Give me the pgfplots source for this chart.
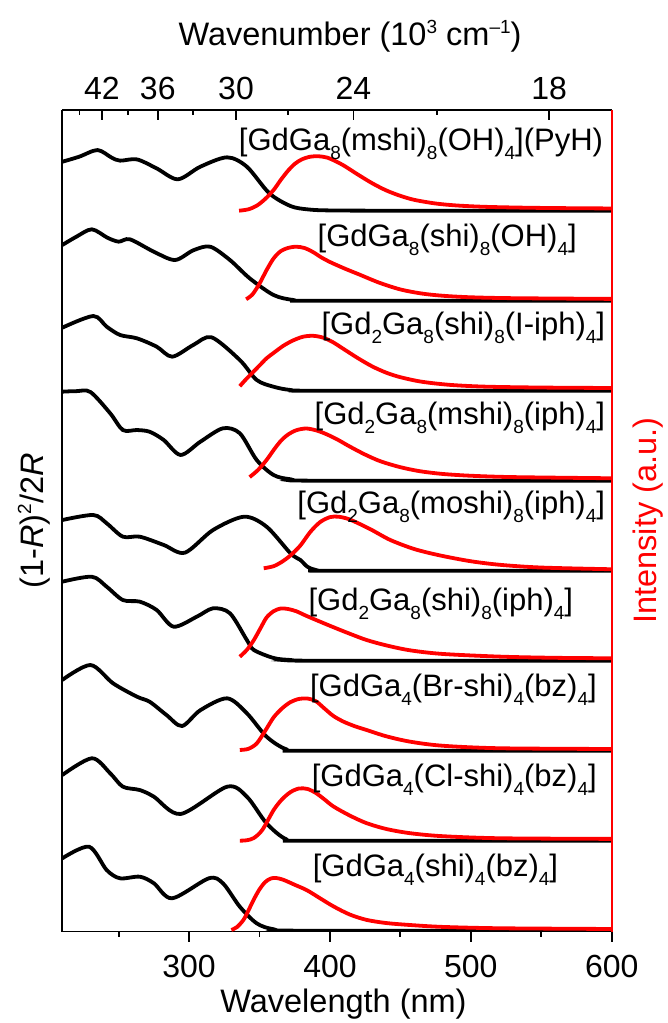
\documentclass[border=0pt]{standalone}
\usepackage{pgfplots}
\pgfplotsset{compat=1.18}
\usepackage{fontspec}
\setmainfont{Liberation Sans}
\newcommand{\sub}[1]{\raisebox{-9pt}{\fontsize{19}{19}\selectfont #1}}
\newcommand{\sups}[1]{\raisebox{12pt}{\fontsize{19}{19}\selectfont #1}}
\definecolor{myred}{RGB}{255,0,0}
\begin{document}
\begin{tikzpicture}
\pgfplotsset{
  blk/.style={black, line width=3.8pt, smooth, tension=0.5},
  rd/.style={myred, line width=3.8pt, smooth, tension=0.5},
}
\begin{axis}[
  at={(0pt,0pt)}, anchor=south west,
  scale only axis, width=549.4pt, height=821.5pt,
  xmin=210, xmax=600, ymin=-0.009, ymax=9.119,
  axis x line*=bottom, axis y line*=left,
  axis line style={line width=1.8pt},
  xtick={300,400,500,600}, xticklabels={300,400,500,600},
  minor xtick={250,350,450,550},
  ytick=\empty,
  tick align=outside, major tick length=10pt, minor tick length=5pt,
  every tick/.style={line width=1.8pt, black},
  xticklabel style={font=\fontsize{32}{32}\selectfont, anchor=base, yshift=-36pt},
  xlabel={Wavelength (nm)},
  ylabel={(1-\textit{R})\sups{2}/2\textit{R}},
  label style={font=\fontsize{32.5}{33}\selectfont},
  xlabel style={at={(axis description cs:0.5118,-0.0992)}, anchor=base},
  ylabel style={at={(axis description cs:-0.035,0.5)}, anchor=base},
]
% offset 8
\addplot[blk] table[x=x, y expr=\thisrow{y}+8] {
x y
210 0.544
222 0.60
235 0.674
245 0.59
251 0.556
263 0.57
277 0.47
292 0.349
308 0.489
327 0.593
341 0.489
357 0.193
372 0.052
384 0.015
400 0.003
450 0
600 0
};
\addplot[rd] table[x=x, y expr=\thisrow{y}+8] {
x y
335.5 0.0
342 0.015
348 0.055
354 0.13
360 0.23
365 0.34
370 0.44
375 0.52
380 0.57
386 0.60
392 0.605
398 0.59
404 0.55
410 0.50
420 0.40
430 0.305
440 0.225
450 0.165
460 0.12
475 0.08
490 0.058
510 0.043
540 0.033
570 0.028
600 0.025
};
% offset 7
\addplot[blk] table[x=x, y expr=\thisrow{y}+7] {
x y
210 0.619
220 0.711
231 0.793
242 0.70
250 0.656
258 0.682
275 0.544
290 0.452
303 0.56
315 0.60
329 0.452
343 0.249
360 0.063
374 0.008
390 0
600 0
};
\addplot[rd] table[x=x, y expr=\thisrow{y}+7] {
x y
340.5 0.016
345 0.07
350 0.19
355 0.34
360 0.47
365 0.55
370 0.585
376 0.60
382 0.585
388 0.54
394 0.48
400 0.43
410 0.36
421 0.29
435 0.20
450 0.125
465 0.08
480 0.055
500 0.038
530 0.028
600 0.02
};
% offset 6
\addplot[blk] table[x=x, y expr=\thisrow{y}+6] {
x y
210 0.70
232 0.83
241.5 0.711
251 0.619
263 0.582
277 0.489
288 0.378
303 0.508
316 0.593
336 0.341
348 0.119
360 0.044
372 0.008
390 0
600 0
};
\addplot[rd] table[x=x, y expr=\thisrow{y}+6] {
x y
336 0.05
340 0.12
345 0.2
350 0.28
355 0.36
360 0.42
367 0.50
374 0.56
381 0.60
388 0.61
395 0.59
402 0.54
410 0.46
420 0.36
430 0.27
440 0.20
450 0.15
465 0.10
485 0.065
510 0.045
550 0.035
600 0.03
};
% offset 5
\addplot[blk] table[x=x, y expr=\thisrow{y}+5] {
x y
210 0.989
220 0.995
230 0.985
244 0.749
253 0.563
263 0.563
272 0.544
282 0.452
294 0.286
308 0.433
324 0.582
336 0.527
348 0.23
360 0.063
372 0.016
390 0
600 0
};
\addplot[rd] table[x=x, y expr=\thisrow{y}+5] {
x y
343 0.04
349 0.12
355 0.23
360 0.34
365 0.44
370 0.51
376 0.56
383 0.58
390 0.56
397 0.52
405 0.46
414 0.38
425 0.29
436 0.215
450 0.15
464 0.105
480 0.075
500 0.055
530 0.04
600 0.027
};
% offset 4
\addplot[blk] table[x=x, y expr=\thisrow{y}+4] {
x y
210 0.563
232 0.619
241.5 0.527
253 0.378
265 0.378
282 0.286
297 0.20
317 0.452
339 0.60
355 0.489
372 0.193
379 0.119
384 0.044
390 0.008
400 0
600 0
};
\addplot[rd] table[x=x, y expr=\thisrow{y}+4] {
x y
353 0.027
360 0.05
366 0.10
372 0.17
379 0.28
386 0.43
393 0.54
400 0.595
406 0.60
413 0.575
421 0.52
430 0.45
443 0.34
460 0.24
478 0.17
500 0.105
521 0.065
550 0.035
600 0.016
};
% offset 3
\addplot[blk] table[x=x, y expr=\thisrow{y}+3] {
x y
210 0.878
231 0.933
241.5 0.822
253 0.674
265 0.656
277 0.563
289 0.378
305.5 0.489
317 0.582
329 0.527
341 0.23
346 0.119
360 0.03
372 0.008
390 0
600 0
};
\addplot[rd] table[x=x, y expr=\thisrow{y}+3] {
x y
336 0.044
341 0.12
346 0.23
351 0.37
355 0.48
360 0.55
365 0.58
370 0.575
376 0.55
383 0.50
392 0.44
402 0.375
414 0.30
426 0.23
440 0.17
457 0.115
480 0.075
521 0.045
560 0.032
600 0.027
};
% offset 2
\addplot[blk] table[x=x, y expr=\thisrow{y}+2] {
x y
210 0.786
230 0.952
246 0.749
263 0.60
272 0.544
284 0.396
295 0.274
308 0.45
327 0.582
341 0.416
355 0.156
369 0.016
385 0
600 0
};
\addplot[rd] table[x=x, y expr=\thisrow{y}+2] {
x y
336 0.008
342 0.02
348 0.08
354 0.22
360 0.37
366 0.47
372 0.54
378 0.575
384 0.58
390 0.55
396 0.47
402.5 0.385
410 0.32
418 0.27
426 0.23
440 0.16
457 0.10
480 0.055
521 0.027
600 0.019
};
% offset 1
\addplot[blk] table[x=x, y expr=\thisrow{y}+1] {
x y
210 0.73
231 0.916
244 0.749
253 0.6
265 0.563
275 0.489
294 0.297
327 0.6
341 0.489
355 0.193
369 0.016
385 0
600 0
};
\addplot[rd] table[x=x, y expr=\thisrow{y}+1] {
x y
336 0
341 0.005
346 0.03
352 0.12
360 0.34
366 0.46
372 0.54
378 0.58
384 0.575
390 0.53
396 0.46
402.5 0.38
414 0.28
426 0.195
440 0.13
457 0.083
480 0.05
521 0.027
600 0.02
};
% offset 0
\addplot[blk] table[x=x, y expr=\thisrow{y}+0] {
x y
210 0.804
229 0.933
241.5 0.674
251 0.582
265 0.60
275 0.527
288 0.36
314 0.582
324 0.527
336 0.267
348 0.082
360 0.016
380 0
600 0
};
\addplot[rd] table[x=x, y expr=\thisrow{y}+0] {
x y
330 0.008
334 0.04
338.6 0.12
342 0.22
345.7 0.34
350 0.46
354 0.54
358 0.58
362 0.585
367 0.565
375 0.51
383.6 0.45
393 0.36
402.5 0.27
414 0.18
426 0.12
440 0.085
457 0.063
480 0.042
521 0.027
600 0.019
};
\begin{scope}[every node/.style={anchor=base east, font=\fontsize{31}{31}\selectfont, inner sep=0pt}]
\node at (axis cs:594.0,8.674) {[GdGa\sub{8}(mshi)\sub{8}(OH)\sub{4}](PyH)};
\node at (axis cs:575.3,7.6) {[GdGa\sub{8}(shi)\sub{8}(OH)\sub{4}]};
\node at (axis cs:595.4,6.619) {[Gd\sub{2}Ga\sub{8}(shi)\sub{8}(I-iph)\sub{4}]};
\node at (axis cs:595.4,5.619) {[Gd\sub{2}Ga\sub{8}(mshi)\sub{8}(iph)\sub{4}]};
\node at (axis cs:595.4,4.638) {[Gd\sub{2}Ga\sub{8}(moshi)\sub{8}(iph)\sub{4}]};
\node at (axis cs:572.7,3.563) {[Gd\sub{2}Ga\sub{8}(shi)\sub{8}(iph)\sub{4}]};
\node at (axis cs:589.5,2.6) {[GdGa\sub{4}(Br-shi)\sub{4}(bz)\sub{4}]};
\node at (axis cs:589.5,1.6) {[GdGa\sub{4}(Cl-shi)\sub{4}(bz)\sub{4}]};
\node at (axis cs:562.1,0.6) {[GdGa\sub{4}(shi)\sub{4}(bz)\sub{4}]};
\end{scope}
\end{axis}
\begin{axis}[
  at={(0pt,0pt)}, anchor=south west,
  scale only axis, width=549.4pt, height=821.5pt,
  xmin=210, xmax=600, ymin=-0.009, ymax=9.119,
  axis x line*=top, axis y line*=right,
  x axis line style={line width=1.8pt, black},
  y axis line style={line width=1.6pt, myred},
  xtick={238.095,277.778,333.333,416.667,555.556},
  xticklabels={42,36,30,24,18},
  minor xtick={222.222,256.410,303.030,370.370,476.190},
  ytick=\empty,
  tick align=inside, major tick length=10pt, minor tick length=5pt,
  every tick/.style={line width=1.8pt, black},
  xticklabel style={font=\fontsize{32}{32}\selectfont, anchor=base, yshift=10pt},
  xlabel={Wavenumber (10\sups{3} cm\sups{–1})},
  ylabel={Intensity (a.u.)},
  label style={font=\fontsize{32.5}{33}\selectfont},
  xlabel style={at={(axis description cs:0.5237,1.0791)}, anchor=base},
  ylabel style={at={(axis description cs:1.0824,0.5)}, anchor=base, myred},
]
\end{axis}
\pgfresetboundingbox
\path[use as bounding box] (-62.3pt,-91.5pt) rectangle (604.7pt,931.5pt);
\end{tikzpicture}
\end{document}
